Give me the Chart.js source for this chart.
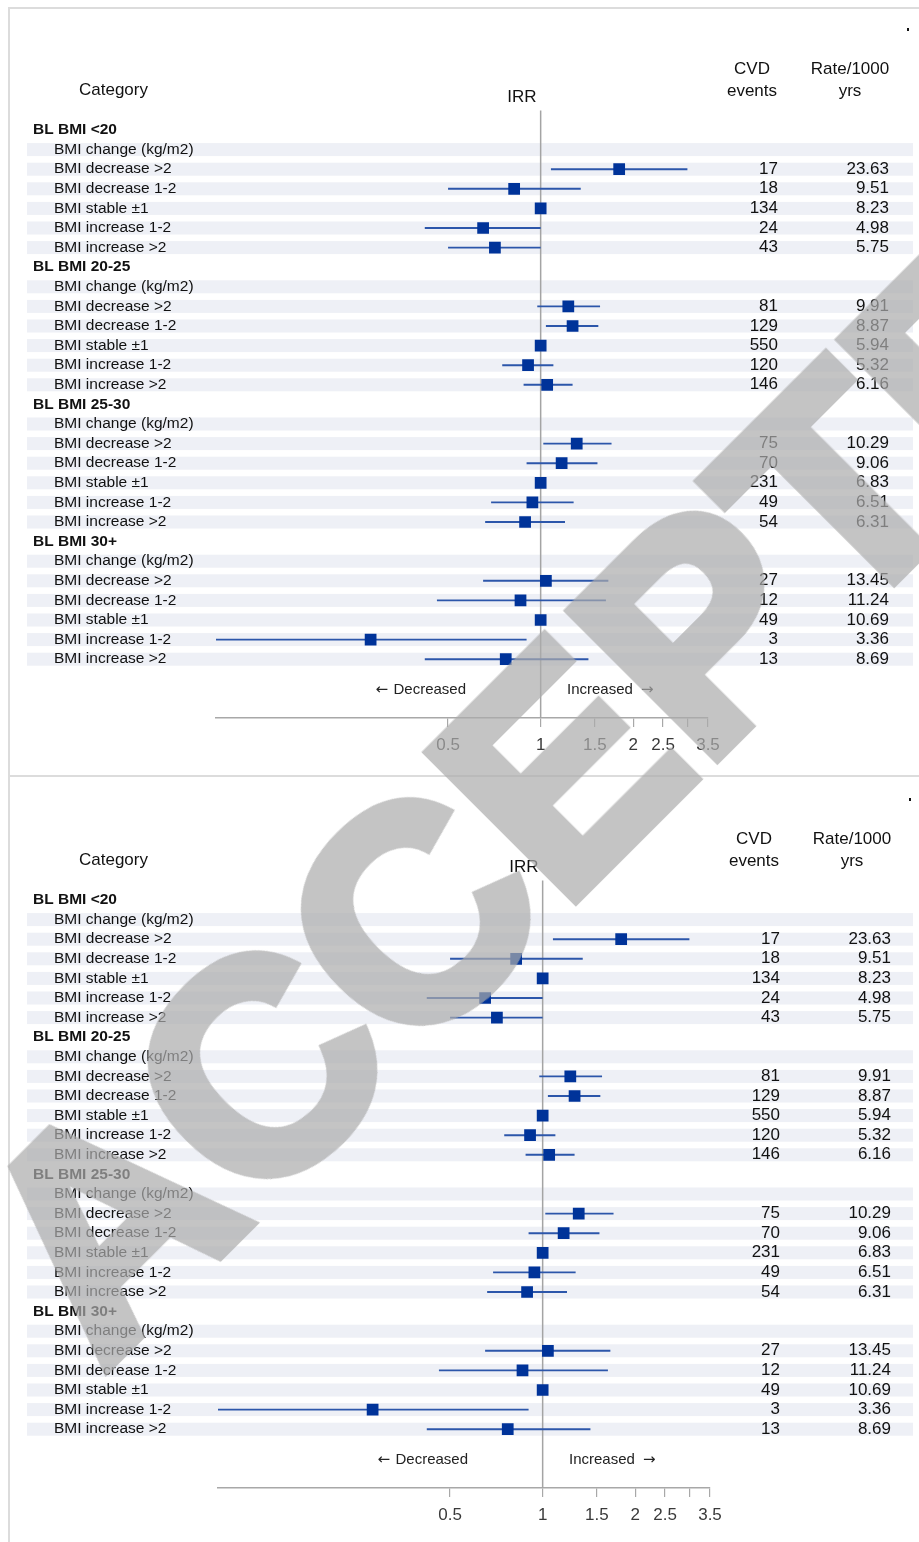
<!DOCTYPE html>
<html>
<head>
<meta charset="utf-8">
<script src="https://cdn.jsdelivr.net/npm/chart.js@4.4.1/dist/chart.umd.min.js"></script>
<style>
  body { margin: 0; background: #fff; width: 919px; height: 1542px; overflow: hidden; position: relative; }
  .frame { position: absolute; left: 8px; top: 7px; width: 1000px; height: 1600px;
           border-left: 2px solid #dcdcdc; border-top: 2px solid #dcdcdc; }
  .split { position: absolute; left: 8px; top: 775px; width: 1000px; height: 2px; background: #dcdcdc; }
  canvas { position: absolute; left: 0; }
  #panelA { top: 0; }
  #panelB { top: 770px; }
  .stamp { position: absolute; left: 612px; top: 715px; transform: translate(-50%, -50%) rotate(-45deg);
           font: bold 300px "Liberation Sans", Arial, sans-serif; color: rgb(172,172,172);
           -webkit-text-stroke: 12px rgb(172,172,172); opacity: 0.7;
           white-space: nowrap; line-height: 1; pointer-events: none; }
</style>
</head>
<body>
<div class="frame"></div>
<div class="split"></div>
<canvas id="panelA" width="919" height="770"></canvas>
<canvas id="panelB" width="919" height="770"></canvas>
<div class="stamp">ACCEPTED</div>
<script>
const groups = ['BL BMI <20', 'BL BMI 20-25', 'BL BMI 25-30', 'BL BMI 30+'];
const rowLabels = ['BMI change (kg/m2)', 'BMI decrease >2', 'BMI decrease 1-2', 'BMI stable \u00b11', 'BMI increase 1-2', 'BMI increase >2'];

// 5 categories per group, groups in order above
const irr    = [1.80, 0.82, 1, 0.65, 0.71,  1.23, 1.27, 1, 0.91, 1.05,  1.31, 1.17, 1, 0.94, 0.89,  1.04, 0.86, 1, 0.28, 0.77];
const ciLow  = [1.08, 0.50, null, 0.42, 0.50,  0.975, 1.04, null, 0.75, 0.88,  1.02, 0.90, null, 0.69, 0.66,  0.65, 0.46, null, 0.088, 0.42];
const ciHigh = [3.00, 1.35, null, 1.00, 1.00,  1.56, 1.54, null, 1.10, 1.27,  1.70, 1.53, null, 1.28, 1.20,  1.66, 1.63, null, 0.90, 1.43];
const events = [17, 18, 134, 24, 43,  81, 129, 550, 120, 146,  75, 70, 231, 49, 54,  27, 12, 49, 3, 13];
const rates  = ['23.63', '9.51', '8.23', '4.98', '5.75',  '9.91', '8.87', '5.94', '5.32', '6.16',
                '10.29', '9.06', '6.83', '6.51', '6.31',  '13.45', '11.24', '10.69', '3.36', '8.69'];

const xTicks = [0.5, 1, 1.5, 2, 2.5, 3, 3.5];
const xTickLabels = ['0.5', '1', '1.5', '2', '2.5', '', '3.5'];

const FONT = '"Liberation Sans", Arial, sans-serif';

// each group takes 7 rows: header, "BMI change" line, then the 5 categories
function rowOf(k) { return Math.floor(k / 5) * 7 + 2 + (k % 5); }

function makePanel(id, dx) {
  const markers = irr.map((v, k) => ({ x: v, y: rowOf(k) }));
  const ciSegs = [];
  ciLow.forEach((lo, k) => {
    if (lo == null) return;
    ciSegs.push({ x: lo, y: rowOf(k) }, { x: ciHigh[k], y: rowOf(k) }, { x: 1, y: null });
  });

  const tablePlugin = {
    id: 'table',
    beforeDraw(chart) {
      const ctx = chart.ctx, y = chart.scales.y;
      ctx.save();
      ctx.fillStyle = '#eef0f6';
      for (let r = 0; r < 28; r++) {
        if (r % 7 === 0) continue;
        const py = y.getPixelForValue(r);
        ctx.fillRect(27, py - 6.5, 886, 13);
      }
      ctx.restore();
    },
    beforeDatasetsDraw(chart) {
      const ctx = chart.ctx, a = chart.chartArea;
      const px = chart.scales.x.getPixelForValue(1);
      ctx.save();
      ctx.strokeStyle = '#a4a4a4';
      ctx.lineWidth = 1.5;
      ctx.beginPath();
      ctx.moveTo(px, a.top);
      ctx.lineTo(px, a.bottom);
      ctx.stroke();
      ctx.restore();
    },
    afterDraw(chart) {
      const ctx = chart.ctx, y = chart.scales.y;
      ctx.save();
      ctx.textBaseline = 'middle';
      ctx.fillStyle = '#111';

      // column headers
      ctx.font = '17px ' + FONT;
      ctx.textAlign = 'left';
      ctx.fillText('Category', 79, 90);
      ctx.textAlign = 'center';
      ctx.fillText('IRR', 522 + dx, 97);
      ctx.fillText('CVD', 752 + dx, 69);
      ctx.fillText('events', 752 + dx, 91);
      ctx.fillText('Rate/1000', 850 + dx, 69);
      ctx.fillText('yrs', 850 + dx, 91);
      ctx.fillRect(907 + dx, 28, 2, 3);

      groups.forEach((g, gi) => {
        const base = gi * 7;
        ctx.textAlign = 'left';
        ctx.font = 'bold 15.5px ' + FONT;
        ctx.fillText(g, 33, y.getPixelForValue(base));
        ctx.font = '15.5px ' + FONT;
        rowLabels.forEach((lab, j) => ctx.fillText(lab, 54, y.getPixelForValue(base + 1 + j)));
      });

      ctx.font = '17px ' + FONT;
      ctx.textAlign = 'right';
      events.forEach((e, k) => {
        const py = y.getPixelForValue(rowOf(k));
        ctx.fillText(String(e), 778 + dx, py);
        ctx.fillText(rates[k], 889 + dx, py);
      });

      // direction captions under the last row
      const py = y.getPixelForValue(28.55);
      ctx.fillStyle = '#222';
      ctx.font = '15px ' + FONT;
      ctx.textAlign = 'right';
      ctx.fillText('Decreased', 466 + dx, py);
      ctx.textAlign = 'left';
      ctx.fillText('Increased', 567 + dx, py);
      ctx.font = '15px "DejaVu Sans", sans-serif';
      ctx.textAlign = 'right';
      ctx.fillText('\u2190', 388 + dx, py + 1);
      ctx.textAlign = 'left';
      ctx.fillText('\u2192', 641 + dx, py + 1);
      ctx.restore();
    }
  };

  return new Chart(document.getElementById(id), {
    type: 'scatter',
    data: {
      datasets: [
        { data: markers, pointStyle: 'rect', pointRadius: 8.3, pointHoverRadius: 8.3,
          backgroundColor: '#003399', borderWidth: 0 },
        { data: ciSegs, showLine: true, spanGaps: false, pointRadius: 0,
          borderColor: '#2c56aa', borderWidth: 1.9 }
      ]
    },
    options: {
      responsive: false,
      animation: false,
      layout: { padding: { left: 216 + dx, right: 211 - dx, top: 110.4, bottom: 12 } },
      plugins: { legend: { display: false }, tooltip: { enabled: false } },
      scales: {
        x: {
          type: 'logarithmic', min: 0.088, max: 3.5,
          afterBuildTicks: s => { s.ticks = xTicks.map(v => ({ value: v })); },
          afterFit: s => { s.height = 40; },
          ticks: { autoSkip: false, maxRotation: 0, padding: 8, color: '#3a3a3a',
                   font: { size: 17, family: FONT },
                   callback: (v, i) => xTickLabels[i] },
          grid: { drawOnChartArea: false, drawTicks: true, tickLength: 9, color: '#a8a8a8', lineWidth: 1.2 },
          border: { color: '#a8a8a8', width: 1.5 }
        },
        y: { type: 'linear', min: -1, max: 30, reverse: true, display: false }
      }
    },
    plugins: [tablePlugin]
  });
}

makePanel('panelA', 0);
makePanel('panelB', 2);
</script>
</body>
</html>
